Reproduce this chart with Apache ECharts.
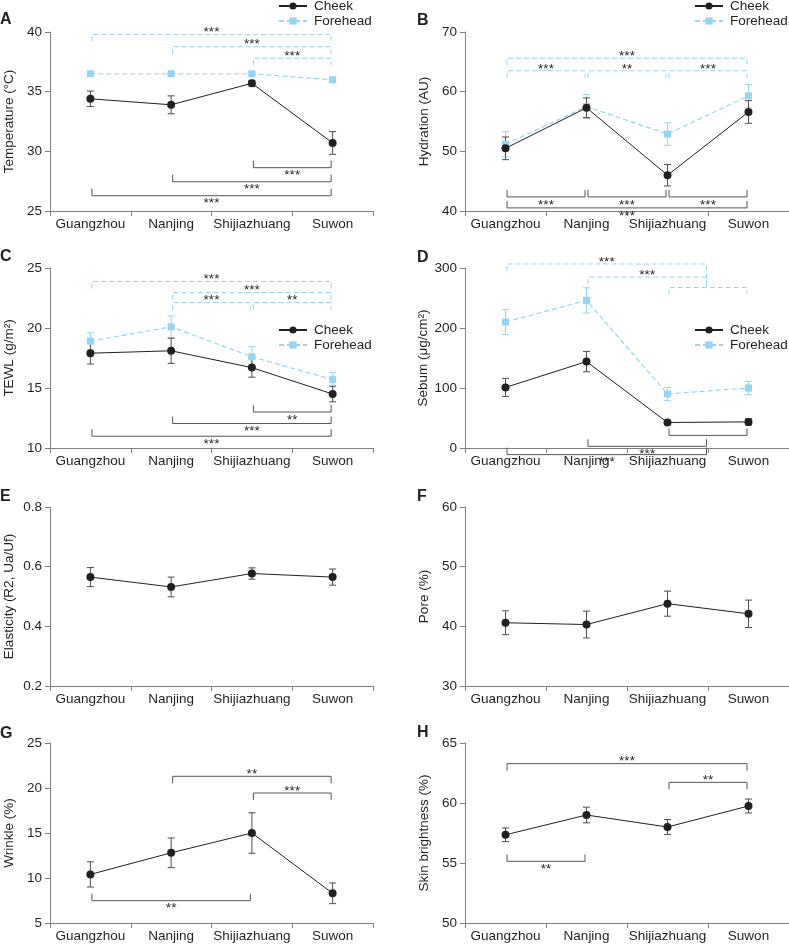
<!DOCTYPE html>
<html><head><meta charset="utf-8">
<script src="https://cdn.jsdelivr.net/npm/echarts@6/dist/echarts.min.js"></script>
<style>html,body{margin:0;padding:0;background:#fff}#c{width:789px;height:945px}</style>
</head><body><div id="c"></div><script>
// ---------- DATA ----------
const categories = ['Guangzhou', 'Nanjing', 'Shijiazhuang', 'Suwon'];

// A Temperature
const tempCheek = [34.4, 33.9, 35.7, 30.7];
const tempCheekErr = [0.65, 0.75, 0.25, 0.95];
const tempFore = [36.5, 36.5, 36.5, 36.0];
const tempForeErr = [0.1, 0.1, 0.1, 0.1];
// [from, to, y, label, tickDir, rightEnd]
const tempBracketsFore = [[0, 3, 39.8, '***', 'down'], [1, 3, 38.77, '***', 'down'], [2, 3, 37.8, '***', 'down']];
const tempBracketsCheek = [[2, 3, 28.63, '***', 'up'], [1, 3, 27.45, '***', 'up'], [0, 3, 26.28, '***', 'up']];

// B Hydration
const hydCheek = [50.5, 57.3, 46.0, 56.6];
const hydCheekErr = [1.9, 1.65, 1.8, 1.9];
const hydFore = [51.2, 57.5, 52.9, 59.3];
const hydForeErr = [2.1, 2.0, 1.9, 1.9];
const hydBracketsFore = [[0, 3, 65.6, '***', 'down'], [0, 1, 63.5, '***', 'down'], [1, 2, 63.5, '**', 'down'], [2, 3, 63.5, '***', 'down']];
const hydBracketsCheek = [[0, 1, 42.36, '***', 'up'], [1, 2, 42.36, '***', 'up'], [2, 3, 42.36, '***', 'up'], [0, 3, 40.52, '***', 'up']];

// C TEWL
const tewlCheek = [17.9, 18.1, 16.7, 14.5];
const tewlCheekErr = [0.9, 1.05, 0.8, 0.65];
const tewlFore = [18.9, 20.1, 17.6, 15.7];
const tewlForeErr = [0.7, 0.9, 0.85, 0.6];
const tewlBracketsFore = [[0, 3, 23.88, '***', 'down'], [1, 3, 22.96, '***', 'down'], [1, 2, 22.12, '***', 'down'], [2, 3, 22.12, '**', 'down']];
const tewlBracketsCheek = [[2, 3, 13.0, '**', 'up'], [1, 3, 12.04, '***', 'up'], [0, 3, 10.98, '***', 'up']];

// D Sebum
const sebumCheek = [101, 144, 42.5, 43.5];
const sebumCheekErr = [15, 17, 3, 5.5];
const sebumFore = [210, 246, 90, 100];
const sebumForeErr = [21, 21, 11, 11];
const sebumBracketsFore = [[0, 2.5, 306.7, '***', 'down', 267.6], [1, 2.5, 285, '***', 'down', 267.6], [2, 3, 267.6, '', 'down']];
const sebumBracketsCheek = [[2, 3, 21, '', 'up'], [1, 2.5, 2.8, '***', 'up'], [0, 2.5, -11, '***', 'up']];

// E Elasticity
const elastCheek = [0.565, 0.532, 0.577, 0.565];
const elastCheekErr = [0.032, 0.033, 0.019, 0.027];

// F Pore
const poreCheek = [40.6, 40.3, 43.8, 42.1];
const poreCheekErr = [2.0, 2.25, 2.1, 2.3];

// G Wrinkle
const wrinkleCheek = [10.4, 12.8, 15.0, 8.3];
const wrinkleCheekErr = [1.4, 1.65, 2.25, 1.15];
const wrinkleBrackets = [[1, 3, 21.3, '**', 'down'], [2, 3, 19.44, '***', 'down'], [0, 2, 7.48, '**', 'up']];

// H Skin brightness
const brightCheek = [57.35, 59.0, 58.0, 59.75];
const brightCheekErr = [0.57, 0.65, 0.62, 0.58];
const brightBrackets = [[0, 3, 63.28, '***', 'down'], [2, 3, 61.72, '**', 'down'], [0, 1, 55.14, '**', 'up']];

// Axes
const yNames = ['Temperature (°C)', 'Hydration (AU)', 'TEWL (g/m²)', 'Sebum (μg/cm²)', 'Elasticity (R2, Ua/Uf)', 'Pore (%)', 'Wrinkle (%)', 'Skin brightness (%)'];
const yMin = [25, 40, 10, 0, 0.2, 30, 5, 50];
const yMax = [40, 70, 25, 300, 0.8, 60, 25, 65];
const yStep = [5, 10, 5, 100, 0.2, 10, 5, 5];
const letters = ['A', 'B', 'C', 'D', 'E', 'F', 'G', 'H'];

// ---------- STYLE / LAYOUT ----------
const FONT = 'Liberation Sans, Arial, sans-serif';
const FS = 13.5;
const TXT = '#231f20';
const AXIS = '#808080';
const BLUE = '#96d4f2';
const DARK = '#231f20';
const BRACKET_DARK = '#555555';
const gridPos = [[50, 32, 323, 179], [465, 32, 324, 179], [50, 268, 323, 180], [465, 268, 324, 180],
                 [50, 507, 323, 179], [465, 507, 324, 179], [50, 743, 323, 180], [465, 743, 324, 180]];
const letterPos = [[0, 12], [417, 13], [0, 249], [417, 250], [0, 489], [417, 489], [0, 726], [417, 725]];

function xPix(api, v) {
  const f = Math.floor(v), t = v - f;
  const a = api.coord([f, 0])[0];
  if (t === 0) return a;
  const b = api.coord([f + 1, 0])[0];
  return a + t * (b - a);
}

function errSeries(idx, mean, err, color, z) {
  return {
    type: 'custom', xAxisIndex: idx, yAxisIndex: idx, z: z, silent: true,
    data: mean.map((m, i) => [i, m - err[i], m + err[i]]),
    encode: { x: 0, y: [1, 2] },
    renderItem: function (params, api) {
      const lo = api.coord([api.value(0), api.value(1)]);
      const hi = api.coord([api.value(0), api.value(2)]);
      const hw = 3.5;
      const st = { stroke: color, lineWidth: 1 };
      return { type: 'group', children: [
        { type: 'line', shape: { x1: lo[0], y1: lo[1], x2: hi[0], y2: hi[1] }, style: st },
        { type: 'line', shape: { x1: lo[0] - hw, y1: lo[1], x2: lo[0] + hw, y2: lo[1] }, style: st },
        { type: 'line', shape: { x1: hi[0] - hw, y1: hi[1], x2: hi[0] + hw, y2: hi[1] }, style: st }
      ] };
    }
  };
}

function bracketSeries(idx, list, color, dashed) {
  return {
    type: 'custom', xAxisIndex: idx, yAxisIndex: idx, z: 1, silent: true, clip: false,
    data: list.map(b => [Math.floor(b[0]), b[2]]),
    encode: { x: 0, y: 1 },
    renderItem: function (params, api) {
      const b = list[params.dataIndex];
      const y = api.coord([0, b[2]])[1];
      const s = b[4] === 'down' ? 1 : -1;
      const t = 7;
      const x1 = xPix(api, b[0]) + 1.5;
      const x2 = xPix(api, b[1]) - 1.5;
      const yR = b[5] != null ? api.coord([0, b[5]])[1] : y + s * t;
      const st = { stroke: color, lineWidth: 1, fill: null };
      if (dashed) st.lineDash = [5, 3];
      const children = [
        { type: 'polyline', shape: { points: [[x1, y + s * t], [x1, y], [x2, y], [x2, yR]] }, style: st }
      ];
      if (b[3]) {
        children.push({ type: 'text', style: {
          x: (x1 + x2) / 2, y: y - s * 5 + 3, text: b[3], align: 'center', verticalAlign: 'middle',
          fontSize: 13.5, fontFamily: FONT, fill: TXT } });
      }
      return { type: 'group', children: children };
    }
  };
}

function lineSeries(idx, name, data, dashed) {
  return {
    type: 'line', name: name, xAxisIndex: idx, yAxisIndex: idx, data: data, z: 5,
    symbol: dashed ? 'rect' : 'circle', symbolSize: dashed ? 7 : 8,
    itemStyle: { color: dashed ? BLUE : DARK },
    lineStyle: { color: dashed ? BLUE : DARK, width: dashed ? 1.2 : 1, type: dashed ? [5, 3] : 'solid' },
    emphasis: { disabled: true }, animation: false
  };
}

const grids = gridPos.map(p => ({ left: p[0], top: p[1], width: p[2], height: p[3] }));
const xAxes = gridPos.map((p, i) => ({
  type: 'category', gridIndex: i, data: categories, boundaryGap: true,
  axisLine: { lineStyle: { color: AXIS, width: 1 } },
  axisTick: { show: true, length: 5, lineStyle: { color: AXIS } },
  axisLabel: { color: TXT, fontSize: FS, fontFamily: FONT, margin: 6, interval: 0 }
}));
const yAxes = gridPos.map((p, i) => ({
  type: 'value', gridIndex: i, min: yMin[i], max: yMax[i], interval: yStep[i],
  name: yNames[i], nameLocation: 'middle', nameGap: 34,
  nameTextStyle: { color: TXT, fontSize: FS, fontFamily: FONT },
  axisLine: { show: true, lineStyle: { color: AXIS, width: 1 } },
  axisTick: { show: true, length: 5, lineStyle: { color: AXIS } },
  splitLine: { show: false },
  axisLabel: { color: TXT, fontSize: FS, fontFamily: FONT, margin: 8 }
}));

const series = [];
const twoSite = [
  [tempCheek, tempCheekErr, tempFore, tempForeErr, tempBracketsFore, tempBracketsCheek],
  [hydCheek, hydCheekErr, hydFore, hydForeErr, hydBracketsFore, hydBracketsCheek],
  [tewlCheek, tewlCheekErr, tewlFore, tewlForeErr, tewlBracketsFore, tewlBracketsCheek],
  [sebumCheek, sebumCheekErr, sebumFore, sebumForeErr, sebumBracketsFore, sebumBracketsCheek]
];
twoSite.forEach((d, i) => {
  series.push(errSeries(i, d[2], d[3], BLUE, 2));
  series.push(lineSeries(i, 'Forehead', d[2], true));
  series.push(errSeries(i, d[0], d[1], '#4d4d4d', 3));
  series.push(lineSeries(i, 'Cheek', d[0], false));
  series.push(bracketSeries(i, d[4], BLUE, true));
  series.push(bracketSeries(i, d[5], BRACKET_DARK, false));
});
const oneSite = [
  [elastCheek, elastCheekErr, []], [poreCheek, poreCheekErr, []],
  [wrinkleCheek, wrinkleCheekErr, wrinkleBrackets], [brightCheek, brightCheekErr, brightBrackets]
];
oneSite.forEach((d, k) => {
  const i = k + 4;
  series.push(errSeries(i, d[0], d[1], '#4d4d4d', 3));
  series.push(lineSeries(i, 'Cheek ' + letters[i], d[0], false));
  if (d[2].length) series.push(bracketSeries(i, d[2], BRACKET_DARK, false));
});

const legendPos = [[278, -1], [694, -1], [278, 323], [694, 323]];
const legends = legendPos.map(p => ({
  data: ['Cheek', 'Forehead'], orient: 'vertical', left: p[0], top: p[1], padding: 0,
  itemWidth: 28, itemHeight: 9, itemGap: 1, selectedMode: false,
  textStyle: { color: TXT, fontSize: FS, fontFamily: FONT, padding: [0, 0, 0, 2] }
}));

const titles = letters.map((l, i) => ({
  text: l, left: letterPos[i][0], top: letterPos[i][1], padding: 0,
  textStyle: { color: TXT, fontSize: 16, fontWeight: 'bold', fontFamily: FONT }
}));

const chart = echarts.init(document.getElementById('c'), null, { renderer: 'canvas' });
chart.setOption({
  animation: false,
  backgroundColor: '#fff',
  textStyle: { fontFamily: FONT },
  title: titles,
  legend: legends,
  grid: grids,
  xAxis: xAxes,
  yAxis: yAxes,
  series: series
});
</script></body></html>
